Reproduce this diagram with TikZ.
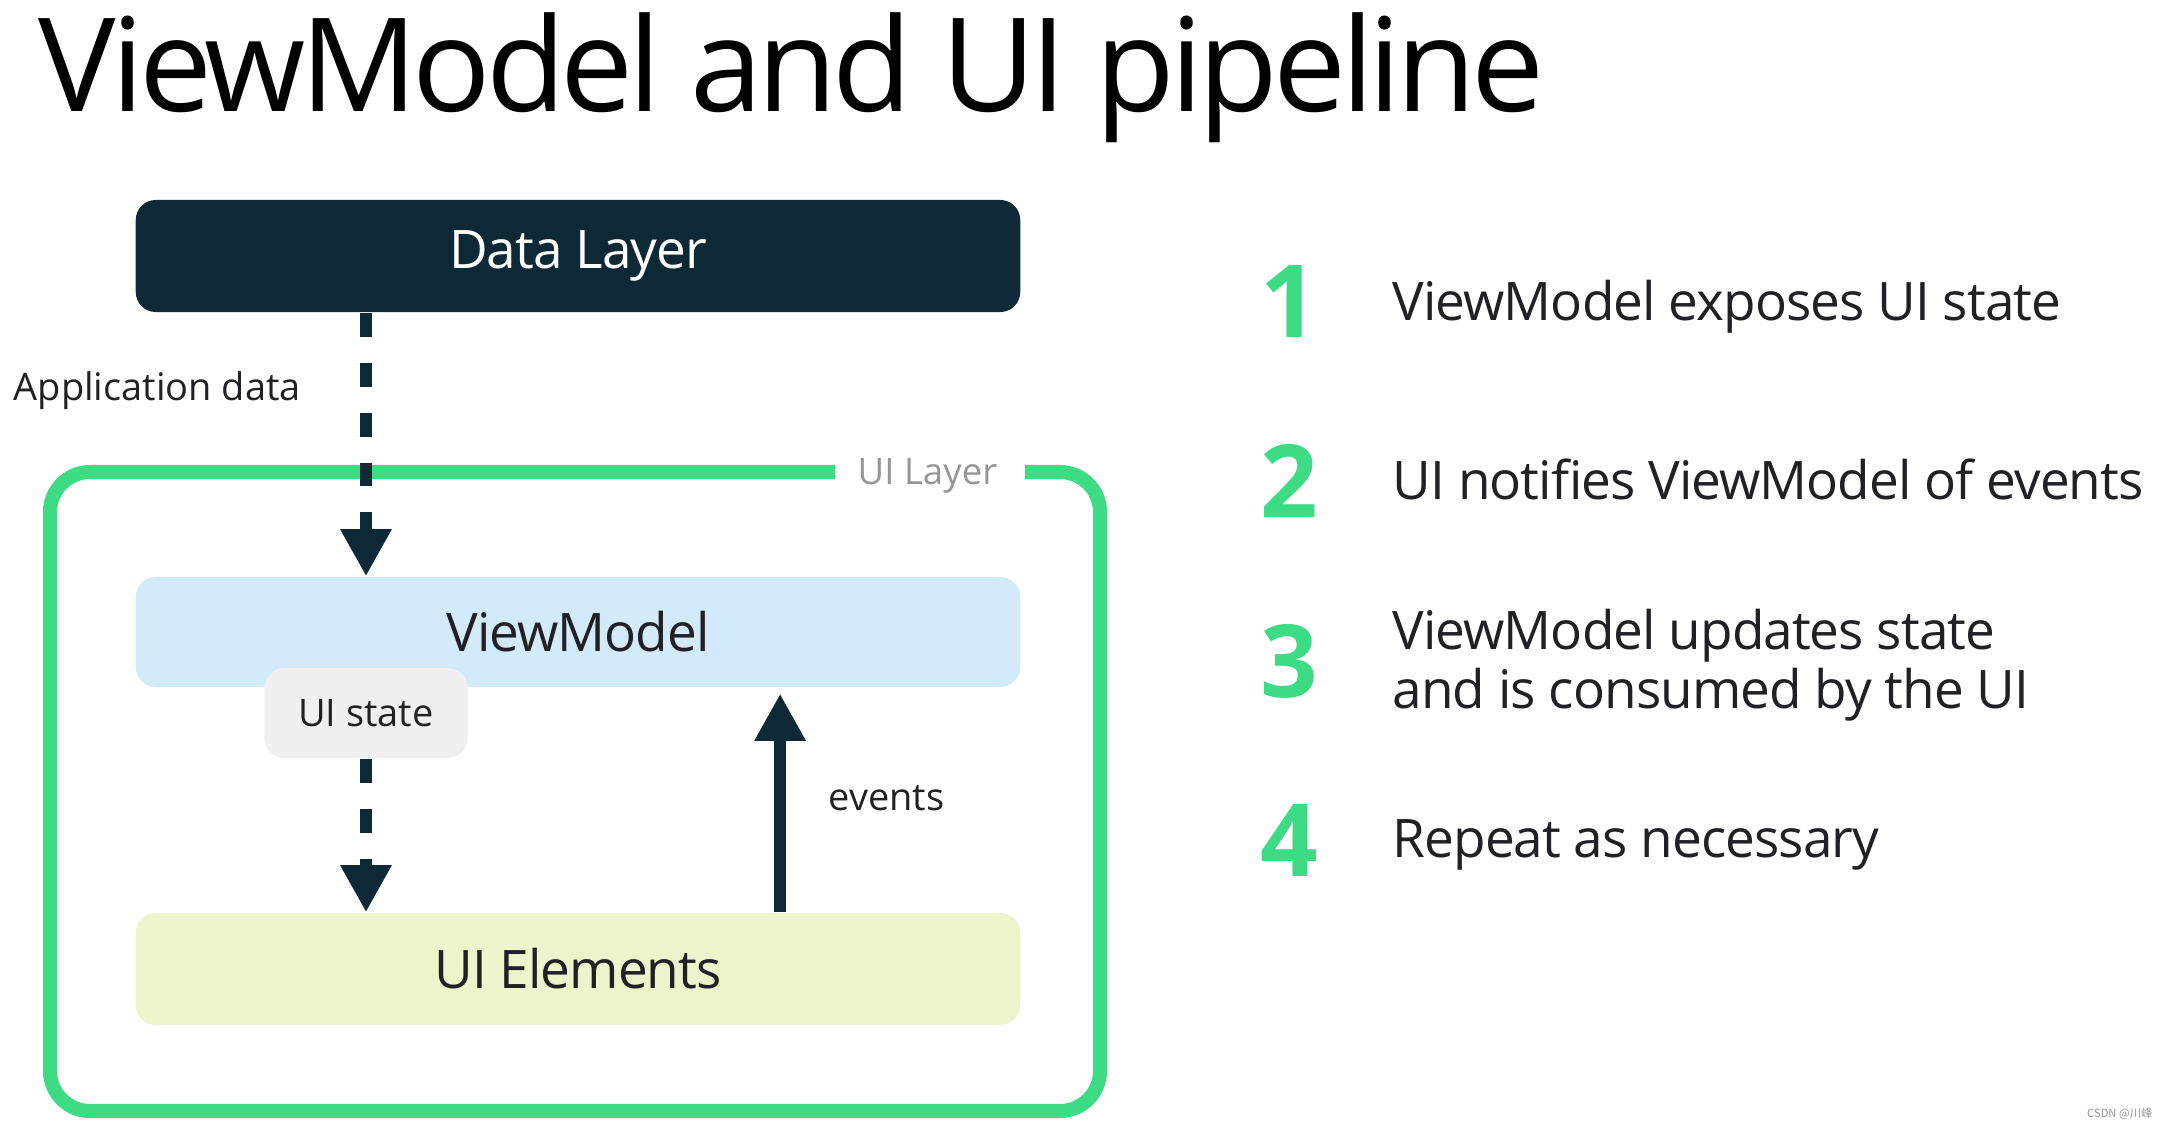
\documentclass[tikz,border=0pt]{standalone}
\usepackage{fontspec}
\usepackage{tikz}
\usetikzlibrary{arrows.meta}
\setmainfont{Open Sans}
\newfontfamily\titlefont[LetterSpace=-3.9]{Open Sans}
\newfontfamily\tightfont[LetterSpace=-1.8]{Open Sans}
\newfontfamily\cjkfont{Noto Sans CJK SC}

\definecolor{navy}{RGB}{13,41,54}
\definecolor{vmblue}{RGB}{211,234,250}
\definecolor{uiyellow}{RGB}{237,244,204}
\definecolor{stategray}{RGB}{240,240,242}
\definecolor{androidgreen}{RGB}{61,220,132}
\definecolor{labelgray}{RGB}{150,150,150}
\definecolor{ink}{RGB}{32,33,36}

\tikzset{
    layerbox/.style={rectangle, rounded corners=0.2cm, minimum width=8.84cm, minimum height=1.12cm, inner sep=0pt, font=\tightfont\fontsize{15.1pt}{18pt}\selectfont},
    smalltext/.style={inner sep=0pt, text=ink, font=\fontsize{10.8pt}{13pt}\selectfont},
    item/.style={inner sep=0pt, anchor=base west, text=ink, font=\tightfont\fontsize{15.1pt}{18pt}\selectfont},
    num/.style={inner sep=0pt, anchor=base, text=androidgreen, font=\bfseries\fontsize{28.7pt}{34pt}\selectfont},
    flow/.style={draw=navy, line width=3.4pt, -{Triangle[width=13.7pt,length=13.4pt]}},
    dashflow/.style={flow, dash pattern=on 6.8pt off 7.4pt},
    uiframe/.style={draw=androidgreen, line width=4pt, rounded corners=0.4cm}
}

\begin{document}
\begin{tikzpicture}[x=0.01cm,y=-0.01cm]
        \useasboundingbox (0,0) rectangle (2168,1130);
        %title
        \node[inner sep=0pt, anchor=base west, font=\titlefont\fontsize{37pt}{44pt}\selectfont] (title) at (38,111) {ViewModel and UI pipeline};
        %ui layer frame, open where its label sits
        \draw[uiframe] (835,472) -- (50,472) -- (50,1111) -- (1100,1111) -- (1100,472) -- (1025,472);
        \node[smalltext, anchor=base west, text=labelgray, font=\fontsize{10.4pt}{12pt}\selectfont] (uilayer) at (857,484) {UI Layer};
        %layers
        \node[layerbox, fill=navy, text=white] (dl) at (578,256) {Data Layer};
        \node[layerbox, fill=vmblue, text=ink, minimum height=1.10cm] (vm) at (578,632) {ViewModel};
        \node[layerbox, fill=uiyellow, text=ink] (uiel) at (578,969) {UI Elements};
        \node[smalltext, fill=stategray, rounded corners=0.2cm, minimum width=2.03cm, minimum height=0.9cm] (us) at (366,713) {UI state};
        %labels
        \node[smalltext, anchor=base west] (appdata) at (13,400) {Application data};
        \node[smalltext, anchor=base west] (events) at (828,810) {events};
        %arrows
        \draw[dashflow] (us |- dl.south) -- (us |- vm.north);
        \draw[dashflow] (us.south) -- (us |- uiel.north);
        \draw[flow, shorten >=1.7pt] ([xshift=2.02cm]uiel.north) -- ([xshift=2.02cm]vm.south);
        %steps
        \node[num] (n1) at (1289,337) {1};
        \node[num] (n2) at (1289,517) {2};
        \node[num] (n3) at (1289,697) {3};
        \node[num] (n4) at (1289,876) {4};
        \node[item] (t1) at (1392,320) {ViewModel exposes UI state};
        \node[item] (t2) at (1392,499) {UI notifies ViewModel of events};
        \node[item] (t3) at (1392,649) {ViewModel updates state};
        \node[item] (t3b) at (1392,708) {and is consumed by the UI};
        \node[item] (t4) at (1392,857) {Repeat as necessary};
        %watermark
        \node[inner sep=0pt, anchor=base east, text=labelgray, font=\cjkfont\fontsize{3.2pt}{4pt}\selectfont] (mark) at (2153,1117) {CSDN @川峰};
\end{tikzpicture}
\end{document}
